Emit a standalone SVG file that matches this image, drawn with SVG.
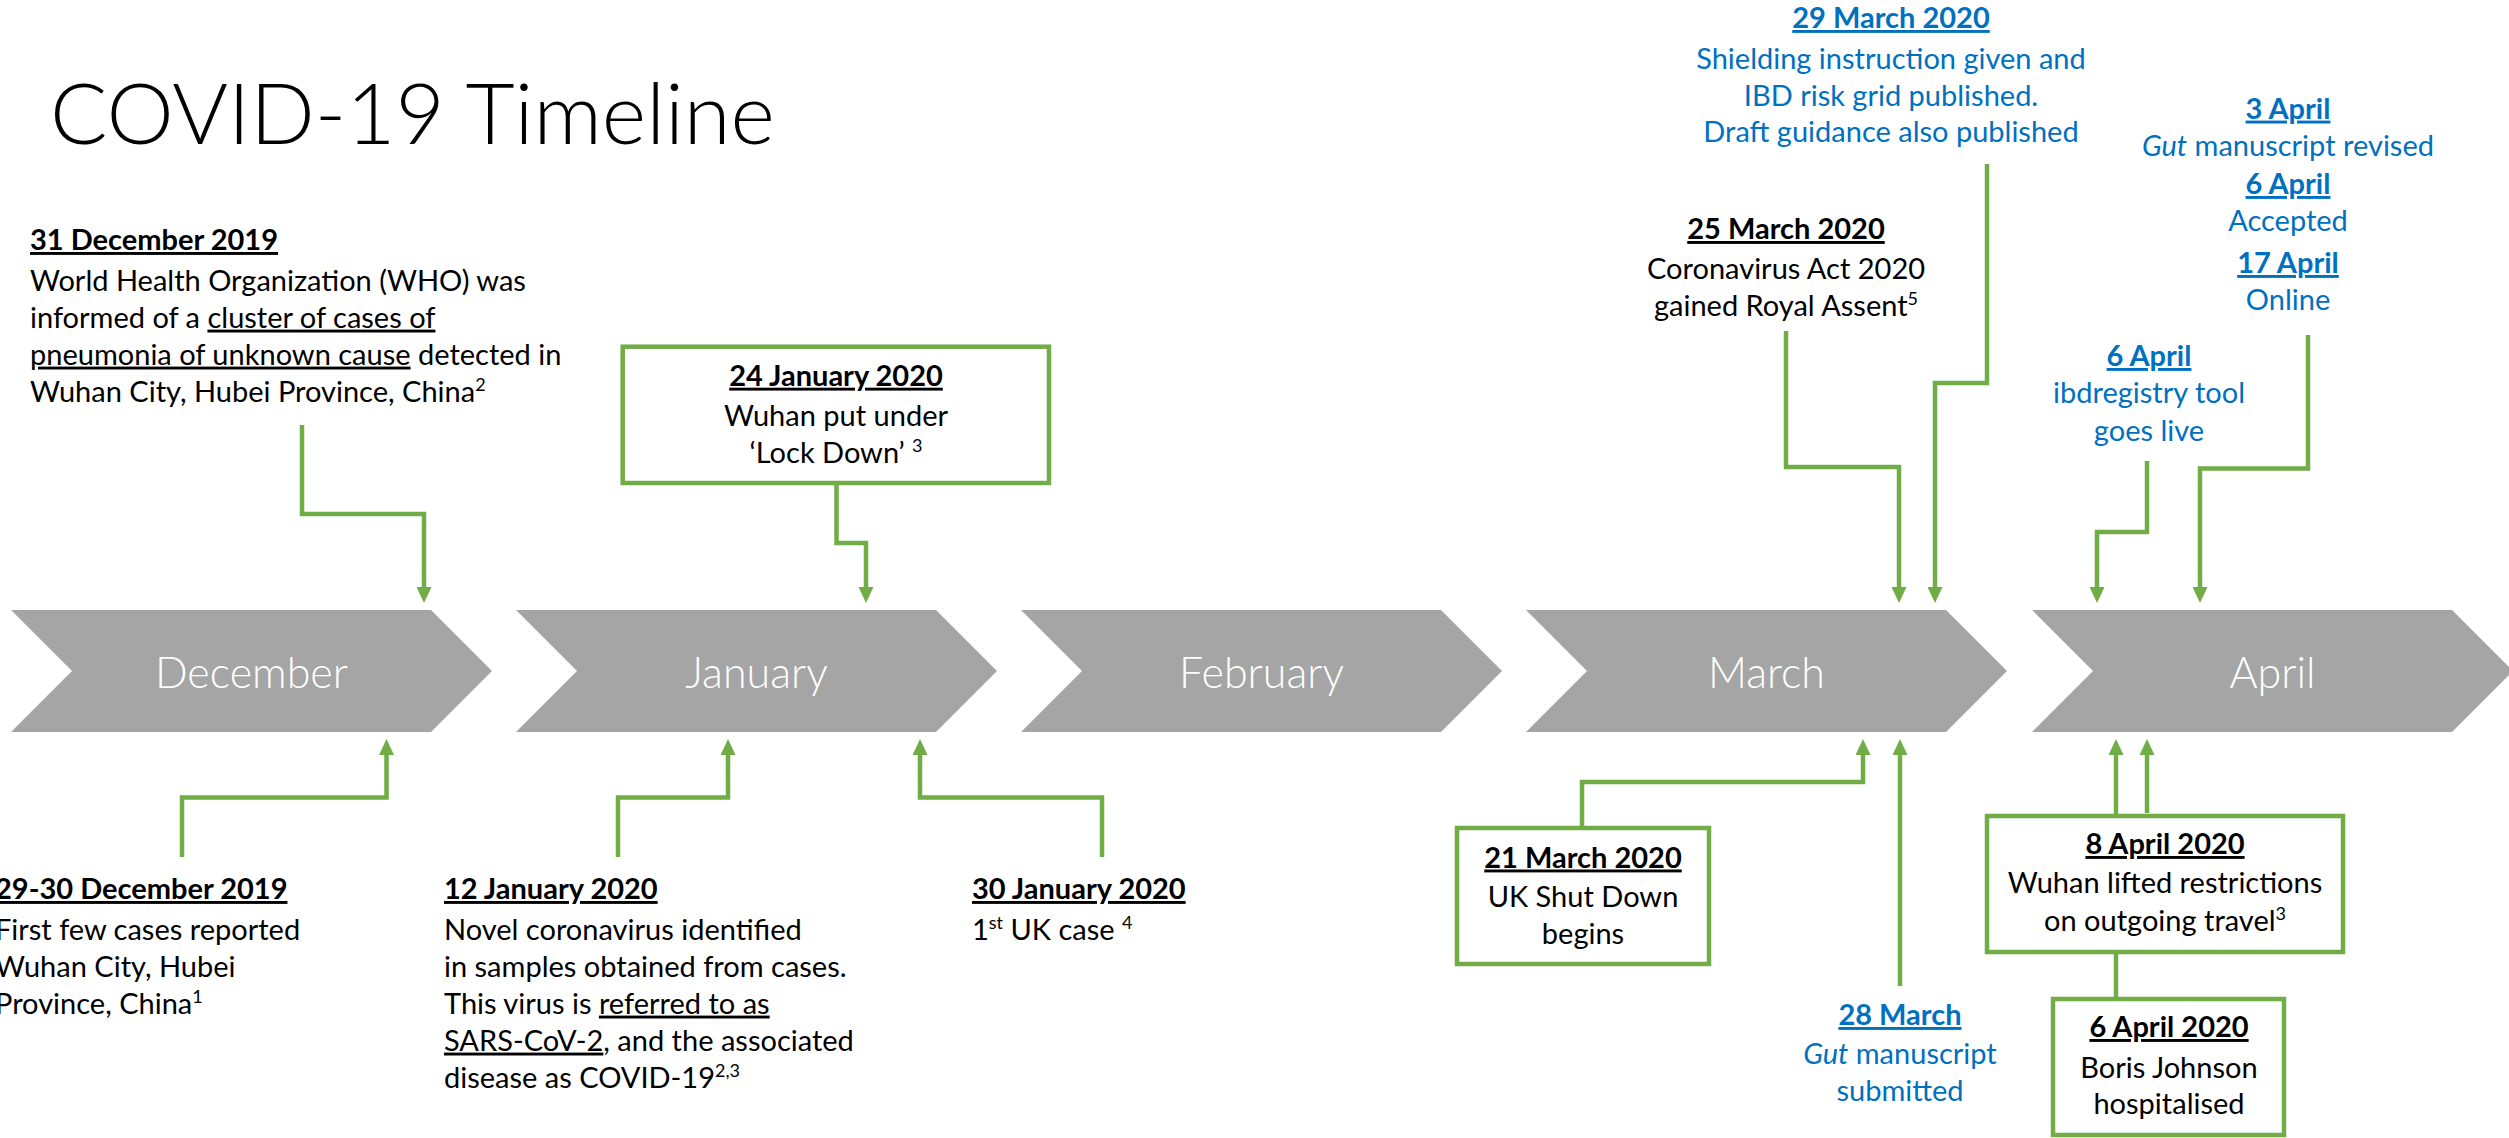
<svg xmlns="http://www.w3.org/2000/svg" width="2509" height="1138" viewBox="0 0 2509 1138">
<style>
.t{font-family:Lato,"Liberation Sans",sans-serif;font-size:29px;fill:#000}
.b{font-weight:bold;text-decoration:underline}
.c{text-anchor:middle}
.blue{fill:#0070C0}
.m{font-family:Lato,"Liberation Sans",sans-serif;font-size:43px;fill:#fff;font-weight:300;text-anchor:middle}
.title{font-family:Lato,"Liberation Sans",sans-serif;font-size:85px;font-weight:300;fill:#000}
.conn{fill:none;stroke:#70AD47;stroke-width:4.5}
.box{fill:#fff;stroke:#70AD47;stroke-width:4.5}
.chev{fill:#A5A5A5}
.sup{font-size:18px}
</style>
<defs>
<marker id="ah" markerUnits="userSpaceOnUse" markerWidth="16" markerHeight="15" viewBox="0 0 16 15" refX="0" refY="7.5" orient="auto">
<path d="M0,0 L16,7.5 L0,15 z" fill="#70AD47"/>
</marker>
</defs>
<rect width="2509" height="1138" fill="#fff"/>
<text class="title" x="50" y="144">COVID-19 Timeline</text>

<g id="months">
<g id="dec"><polygon class="chev" points="11,610 431,610 492,671 431,732 11,732 72,671"/><text class="m" x="251.5" y="688">December</text></g>
<g id="jan"><polygon class="chev" points="516,610 936,610 997,671 936,732 516,732 577,671"/><text class="m" x="756.5" y="688">January</text></g>
<g id="feb"><polygon class="chev" points="1021,610 1441,610 1502,671 1441,732 1021,732 1082,671"/><text class="m" x="1261.5" y="688">February</text></g>
<g id="mar"><polygon class="chev" points="1526,610 1946,610 2007,671 1946,732 1526,732 1587,671"/><text class="m" x="1766.5" y="688">March</text></g>
<g id="apr"><polygon class="chev" points="2032,610 2452,610 2513,671 2452,732 2032,732 2093,671"/><text class="m" x="2272.5" y="688">April</text></g>
</g>

<g id="connectors">
<path class="conn" marker-end="url(#ah)" d="M302,425 V514 H424 V587"/>
<path class="conn" marker-end="url(#ah)" d="M836.5,483 V543 H866 V587"/>
<path class="conn" marker-end="url(#ah)" d="M1786,331 V467 H1899 V587"/>
<path class="conn" marker-end="url(#ah)" d="M1987,164 V383 H1935 V587"/>
<path class="conn" marker-end="url(#ah)" d="M2147,461 V532 H2097 V587"/>
<path class="conn" marker-end="url(#ah)" d="M2308,335 V468.5 H2200 V587"/>
<path class="conn" marker-end="url(#ah)" d="M182,857 V797.5 H386.5 V755"/>
<path class="conn" marker-end="url(#ah)" d="M618,857 V797.5 H728 V755"/>
<path class="conn" marker-end="url(#ah)" d="M1102,857 V797.5 H920 V755"/>
<path class="conn" marker-end="url(#ah)" d="M1582,828 V782 H1863 V755"/>
<path class="conn" marker-end="url(#ah)" d="M1900,986 V755"/>
<path class="conn" marker-end="url(#ah)" d="M2116,816 V755"/>
<path class="conn" marker-end="url(#ah)" d="M2147,813 V755"/>
<path class="conn" d="M2116,952 V999"/>
</g>

<g id="n-31dec">
<text class="t" x="30" y="250"><tspan class="b">31 December 2019</tspan></text>
<text class="t" x="30" y="290.6">World Health Organization (WHO) was</text>
<text class="t" x="30" y="327.6">informed of a <tspan text-decoration="underline">cluster of cases of</tspan></text>
<text class="t" x="30" y="364.6"><tspan text-decoration="underline">pneumonia of unknown cause</tspan> detected in</text>
<text class="t" x="30" y="401.6">Wuhan City, Hubei Province, China<tspan class="sup" dy="-11">2</tspan></text>
</g>

<g id="n-24jan">
<rect class="box" x="622.7" y="346.7" width="426.3" height="136.3"/>
<text class="t c" x="836" y="385.7"><tspan class="b">24 January 2020</tspan></text>
<text class="t c" x="836" y="426">Wuhan put under</text>
<text class="t c" x="836" y="462.7">‘Lock Down’ <tspan class="sup" dy="-11">3</tspan></text>
</g>

<g id="n-2930dec">
<text class="t" x="-5" y="899"><tspan class="b">29-30 December 2019 </tspan></text>
<text class="t" x="-5" y="939.6">First few cases reported</text>
<text class="t" x="-5" y="976.6">Wuhan City, Hubei</text>
<text class="t" x="-5" y="1013.6">Province, China<tspan class="sup" dy="-11">1</tspan></text>
</g>

<g id="n-12jan">
<text class="t" x="444" y="899"><tspan class="b">12 January 2020</tspan></text>
<text class="t" x="444" y="939.6">Novel coronavirus identified</text>
<text class="t" x="444" y="976.6">in samples obtained from cases.</text>
<text class="t" x="444" y="1013.6">This virus is <tspan text-decoration="underline">referred to as </tspan></text>
<text class="t" x="444" y="1050.6"><tspan text-decoration="underline">SARS-CoV-2</tspan>, and the associated</text>
<text class="t" x="444" y="1087.6">disease as COVID-19<tspan class="sup" dy="-11">2,3</tspan></text>
</g>

<g id="n-30jan">
<text class="t" x="972" y="899"><tspan class="b">30 January 2020</tspan></text>
<text class="t" x="972" y="939.6">1<tspan class="sup" dy="-11">st</tspan><tspan dy="11"> UK case </tspan><tspan class="sup" dy="-11">4</tspan></text>
</g>

<g id="n-25mar">
<text class="t c" x="1786" y="239"><tspan class="b">25 March 2020</tspan></text>
<text class="t c" x="1786" y="279">Coronavirus Act 2020</text>
<text class="t c" x="1786" y="316">gained Royal Assent<tspan class="sup" dy="-11">5</tspan></text>
</g>

<g id="n-29mar">
<text class="t c blue" x="1891" y="28"><tspan class="b">29 March 2020</tspan></text>
<text class="t c blue" x="1891" y="69">Shielding instruction given and</text>
<text class="t c blue" x="1891" y="106">IBD risk grid published.</text>
<text class="t c blue" x="1891" y="142">Draft guidance also published</text>
</g>

<g id="n-apr-gut">
<text class="t c blue" x="2288" y="118.6"><tspan class="b">3 April</tspan></text>
<text class="t c blue" x="2288" y="156"><tspan font-style="italic">Gut</tspan> manuscript revised</text>
<text class="t c blue" x="2288" y="194"><tspan class="b">6 April</tspan></text>
<text class="t c blue" x="2288" y="231">Accepted</text>
<text class="t c blue" x="2288" y="273"><tspan class="b">17 April</tspan></text>
<text class="t c blue" x="2288" y="310">Online</text>
</g>

<g id="n-6apr-ibd">
<text class="t c blue" x="2149" y="366"><tspan class="b">6 April</tspan></text>
<text class="t c blue" x="2149" y="403">ibdregistry tool</text>
<text class="t c blue" x="2149" y="441">goes live</text>
</g>

<g id="n-21mar">
<rect class="box" x="1457" y="828" width="252" height="136"/>
<text class="t c" x="1583" y="867.5"><tspan class="b">21 March 2020</tspan></text>
<text class="t c" x="1583" y="906.7">UK Shut Down</text>
<text class="t c" x="1583" y="943.7">begins</text>
</g>

<g id="n-28mar">
<text class="t c blue" x="1900" y="1025"><tspan class="b">28 March</tspan></text>
<text class="t c blue" x="1900" y="1064"><tspan font-style="italic">Gut</tspan> manuscript</text>
<text class="t c blue" x="1900" y="1101">submitted</text>
</g>

<g id="n-8apr">
<rect class="box" x="1987" y="816" width="356" height="136"/>
<text class="t c" x="2165" y="854"><tspan class="b">8 April 2020</tspan></text>
<text class="t c" x="2165" y="893">Wuhan lifted restrictions</text>
<text class="t c" x="2165" y="930.5">on outgoing travel<tspan class="sup" dy="-11">3</tspan></text>
</g>

<g id="n-6apr">
<rect class="box" x="2053" y="999" width="231" height="136"/>
<text class="t c" x="2169" y="1037"><tspan class="b">6 April 2020</tspan></text>
<text class="t c" x="2169" y="1078">Boris Johnson</text>
<text class="t c" x="2169" y="1114">hospitalised</text>
</g>
</svg>
